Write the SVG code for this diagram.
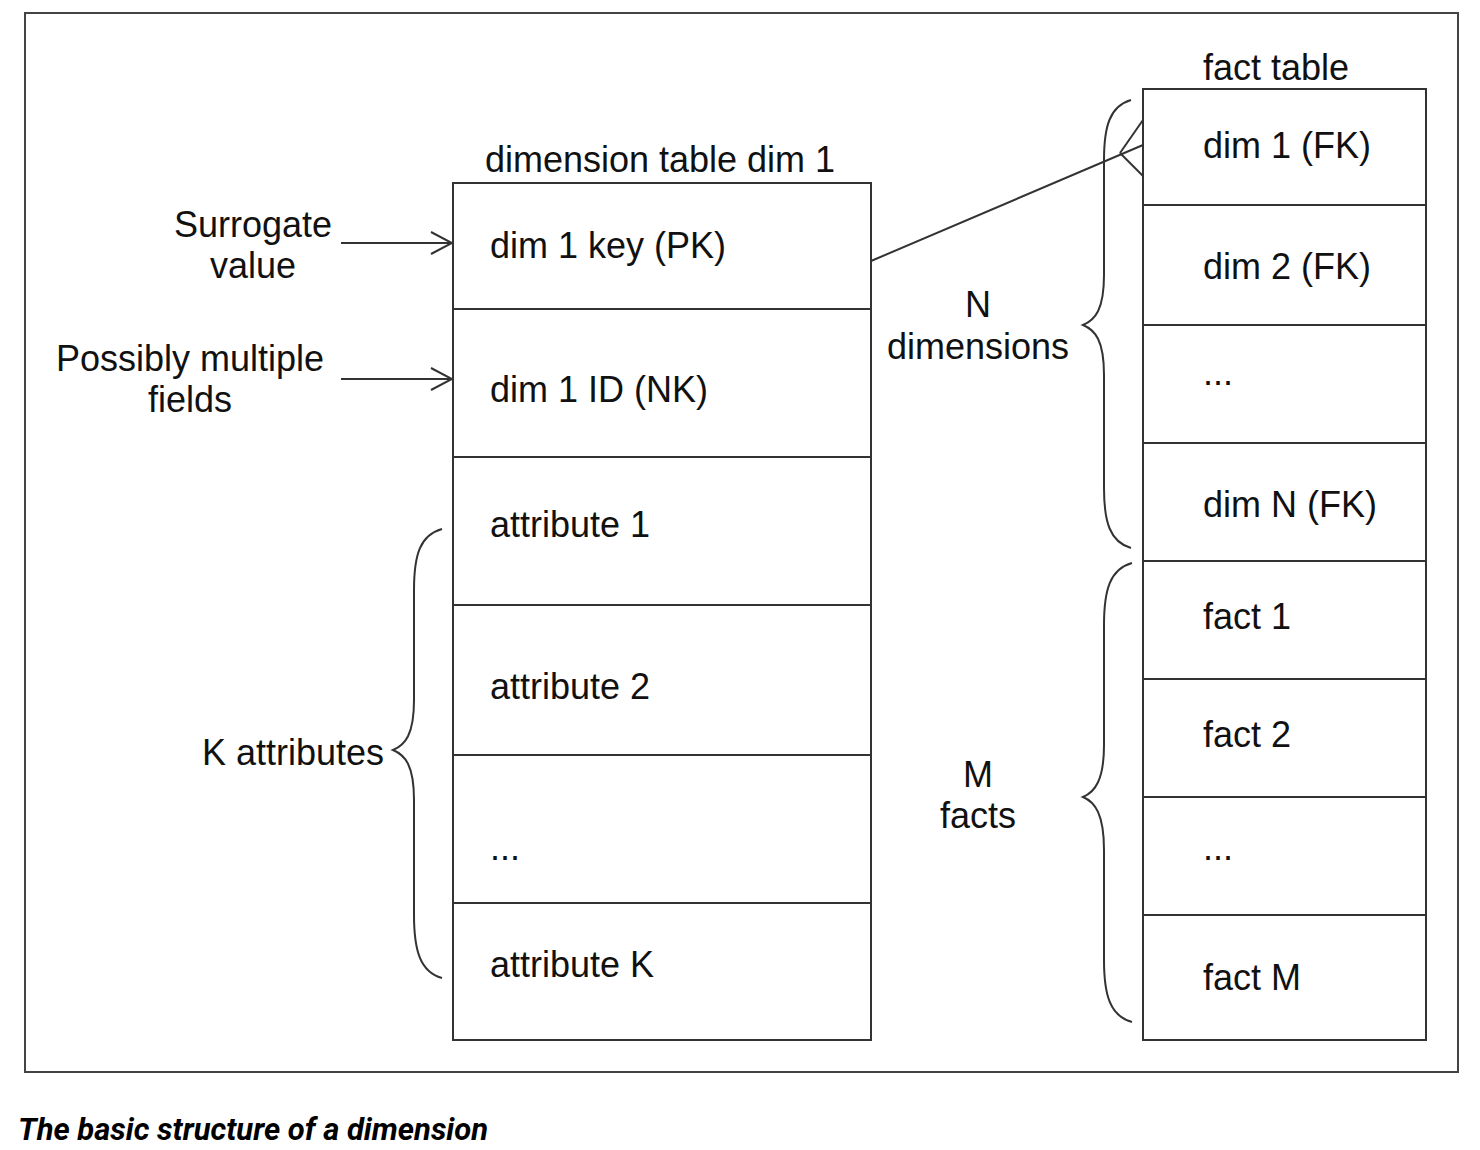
<svg xmlns="http://www.w3.org/2000/svg" width="1480" height="1150" viewBox="0 0 1480 1150">
<defs>
<style>
.t{font-family:"Liberation Sans",Arial,sans-serif;font-size:36px;fill:#111}
.c{text-anchor:middle}
.e{text-anchor:end}
.box{fill:#fff;stroke:#333;stroke-width:2}
.ln{stroke:#333;stroke-width:2;fill:none}
.br{stroke:#333;stroke-width:2;fill:none}
.cap{font-family:Roboto,"Liberation Sans",sans-serif;font-weight:bold;font-style:italic;font-size:31px;fill:#000}
</style>
<marker id="open" markerWidth="24" markerHeight="26" refX="22" refY="12" orient="auto" markerUnits="userSpaceOnUse" viewBox="0 0 24 26">
<path d="M1,1 L22,12 L1,23" fill="none" stroke="#333" stroke-width="2"/>
</marker>
</defs>
<rect width="1480" height="1150" fill="#fff"/>
<rect x="25" y="13" width="1433" height="1059" fill="none" stroke="#444" stroke-width="2"/>

<g id="dim-table">
<text class="t c" x="660" y="172">dimension table dim 1</text>
<rect class="box" x="453" y="183" width="418" height="857"/>
<line class="ln" x1="453" y1="309" x2="871" y2="309"/>
<line class="ln" x1="453" y1="457" x2="871" y2="457"/>
<line class="ln" x1="453" y1="605" x2="871" y2="605"/>
<line class="ln" x1="453" y1="755" x2="871" y2="755"/>
<line class="ln" x1="453" y1="903" x2="871" y2="903"/>
<text class="t" x="490" y="258">dim 1 key (PK)</text>
<text class="t" x="490" y="402">dim 1 ID (NK)</text>
<text class="t" x="490" y="537">attribute 1</text>
<text class="t" x="490" y="699">attribute 2</text>
<text class="t" x="490" y="860">...</text>
<text class="t" x="490" y="977">attribute K</text>
</g>

<g id="fact-table">
<text class="t" x="1203" y="80">fact table</text>
<rect class="box" x="1143" y="89" width="283" height="951"/>
<line class="ln" x1="1143" y1="205" x2="1426" y2="205"/>
<line class="ln" x1="1143" y1="325" x2="1426" y2="325"/>
<line class="ln" x1="1143" y1="443" x2="1426" y2="443"/>
<line class="ln" x1="1143" y1="561" x2="1426" y2="561"/>
<line class="ln" x1="1143" y1="679" x2="1426" y2="679"/>
<line class="ln" x1="1143" y1="797" x2="1426" y2="797"/>
<line class="ln" x1="1143" y1="915" x2="1426" y2="915"/>
<text class="t" x="1203" y="158">dim 1 (FK)</text>
<text class="t" x="1203" y="279">dim 2 (FK)</text>
<text class="t" x="1203" y="385">...</text>
<text class="t" x="1203" y="517">dim N (FK)</text>
<text class="t" x="1203" y="629">fact 1</text>
<text class="t" x="1203" y="747">fact 2</text>
<text class="t" x="1203" y="860">...</text>
<text class="t" x="1203" y="990">fact M</text>
</g>

<g id="label-surrogate">
<text class="t c" x="253" y="237">Surrogate</text>
<text class="t c" x="253" y="278">value</text>
</g>
<g id="label-multiple">
<text class="t c" x="190" y="371">Possibly multiple</text>
<text class="t c" x="190" y="412">fields</text>
</g>
<g id="label-k">
<text class="t e" x="384" y="765">K attributes</text>
<path class="br" d="M442,529 C420,535 414,555 414,590 L414,700 C414,735 405,745 393,750 C405,755 414,765 414,800 L414,915 C414,950 420,972 442,978"/>
</g>
<g id="label-n">
<text class="t c" x="978" y="317">N</text>
<text class="t c" x="978" y="359">dimensions</text>
<path class="br" d="M1131,100 C1110,106 1104,126 1104,160 L1104,275 C1104,310 1095,320 1083,325 C1095,330 1104,340 1104,375 L1104,488 C1104,522 1110,542 1131,548"/>
</g>
<g id="label-m">
<text class="t c" x="978" y="787">M</text>
<text class="t c" x="978" y="828">facts</text>
<path class="br" d="M1132,563 C1110,569 1104,590 1104,625 L1104,745 C1104,780 1095,792 1083,797 C1095,802 1104,814 1104,850 L1104,960 C1104,995 1110,1016 1132,1022"/>
</g>

<g id="connectors">
<line class="ln" x1="341" y1="243" x2="452" y2="243" marker-end="url(#open)"/>
<line class="ln" x1="341" y1="379" x2="452" y2="379" marker-end="url(#open)"/>
<line class="ln" x1="871" y1="261" x2="1143" y2="145"/>
<line class="ln" x1="1120" y1="153" x2="1143" y2="120"/>
<line class="ln" x1="1120" y1="153" x2="1143" y2="176"/>
</g>

<text class="cap" x="18" y="1140">The basic structure of a dimension</text>
</svg>
